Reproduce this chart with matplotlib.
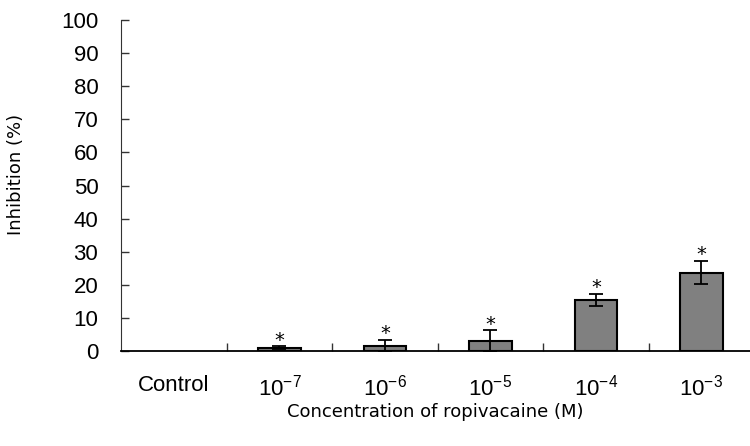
import matplotlib
matplotlib.use('Agg')
import numpy as np
import matplotlib.pyplot as plt

plt.rcParams['font.family'] = ['Liberation Sans', 'DejaVu Sans']
plt.rcParams['mathtext.fontset'] = 'custom'
plt.rcParams['mathtext.rm'] = 'Liberation Sans'
plt.rcParams['mathtext.it'] = 'Liberation Sans'
plt.rcParams['mathtext.bf'] = 'Liberation Sans'

# 数据
categories = ['Control', r'$10^{-7}$', r'$10^{-6}$', r'$10^{-5}$', r'$10^{-4}$', r'$10^{-3}$']
inhibition = [0, 1.0, 1.5, 2.9, 15.4, 23.7]
sd = [0, 0.4, 1.8, 3.3, 1.9, 3.5]
significant = [False, True, True, True, True, True]

fig = plt.figure(figsize=(7.5, 4.46), dpi=100)
ax = fig.add_axes([121.25 / 750, 1 - 351 / 446, (750 - 121.25) / 750, (351 - 20) / 446])

x = np.arange(len(categories))
ax.bar(x[1:], inhibition[1:], width=0.4, color='#808080', edgecolor='black', linewidth=1.5,
       yerr=sd[1:], error_kw=dict(ecolor='black', elinewidth=1.3, capsize=4.7, capthick=1.3))

# 星号
for xi, v, s, sig in zip(x, inhibition, sd, significant):
    if sig:
        ax.annotate('*', (xi, v + s), xytext=(0, 0.5), textcoords='offset points',
                    ha='center', va='baseline', fontsize=14, family='DejaVu Sans')

ax.set_xlim(-0.5, 5.46)
ax.set_ylim(0, 100)
ax.set_yticks(np.arange(0, 101, 10))
ax.set_xticks(x)
ax.set_xticklabels(categories, fontsize=16)
ax.set_xticks(np.arange(0.5, 5, 1), minor=True)
ax.tick_params(axis='x', which='major', length=0, pad=17)
ax.tick_params(axis='x', which='minor', direction='in', length=6, width=1, color='#333333')
ax.tick_params(axis='y', direction='in', length=6, width=1, color='#333333', labelsize=16, pad=16.5)

for s in ['top', 'right']:
    ax.spines[s].set_visible(False)
ax.spines['left'].set_color('#333333')
ax.spines['bottom'].set_linewidth(1.3)

ax.set_ylabel('Inhibition (%)', fontsize=13, family='DejaVu Sans')
ax.yaxis.set_label_coords(-0.153, 0.532)
ax.set_xlabel('Concentration of ropivacaine (M)', fontsize=13, family='DejaVu Sans')
ax.xaxis.set_label_coords(0.5, -0.157)

plt.savefig('out.png', dpi=100)
